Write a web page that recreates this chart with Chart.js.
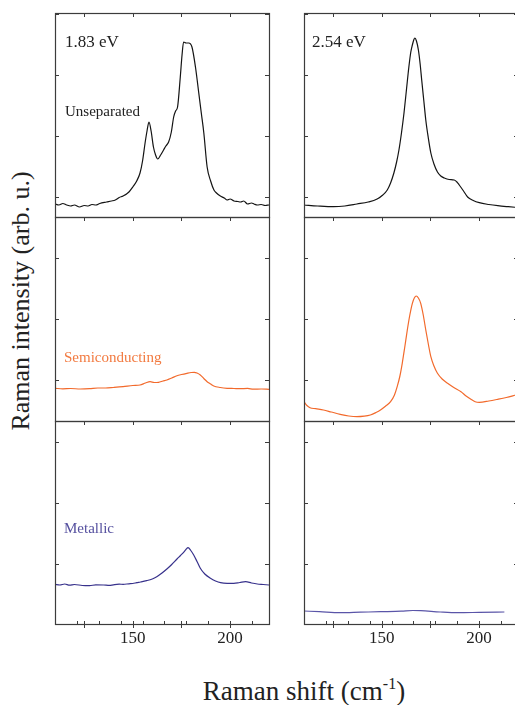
<!DOCTYPE html>
<html><head><meta charset="utf-8">
<script src="https://cdn.jsdelivr.net/npm/chart.js@4.4.0/dist/chart.umd.min.js"></script>
<style>
html,body{margin:0;padding:0;width:515px;height:705px;overflow:hidden;background:#fff;position:relative;}
canvas{position:absolute;}
.t{position:absolute;font-family:"Liberation Serif","Times New Roman",serif;white-space:nowrap;line-height:1;color:#222;}
</style></head><body>
<canvas id="p0"></canvas><canvas id="p1"></canvas><canvas id="p2"></canvas>
<canvas id="p3"></canvas><canvas id="p4"></canvas><canvas id="p5"></canvas>
<div class="t" style="font-size:17px;left:65px;top:32.8px;">1.83 eV</div>
<div class="t" style="font-size:17px;left:312px;top:32.8px;">2.54 eV</div>
<div class="t" style="font-size:15px;left:65px;top:104.4px;">Unseparated</div>
<div class="t" style="font-size:15px;left:64px;top:350px;color:#f27a40;">Semiconducting</div>
<div class="t" style="font-size:15px;left:64px;top:520.5px;color:#55509f;">Metallic</div>
<div class="t" style="font-size:26px;left:21px;top:301px;transform:translate(-50%,-50%) rotate(-90deg);">Raman intensity (arb. u.)</div>
<div class="t" style="font-size:27px;left:304px;top:678.4px;transform:translateX(-50%);">Raman shift (cm<span style="font-size:16px;position:relative;top:-11px;">-1</span>)</div>
<script>
// ---- data (Raman shift in cm^-1, intensity in arb. u.) ----
const shiftMajorTicks = [125, 150, 175, 200];
const shiftMinorTicks = [121.25, 132.5, 143.75, 155, 166.25, 177.5, 188.75, 211.25];
const shiftTickLabels = [150, 200];
const intensityTicksTop = [20, 81, 142, 203];
const intensityTicksMid = [41, 102, 163];
const intensityTicksBot = [60, 121, 182];

const shiftUnsep183 = [110,112,114,116,118,120,122.6,125,127,129,131,133,136.5,139,141,143,145,148,150,152,153.7,155,156.3,157.3,158.3,159.4,160.6,161.7,162.8,164.3,165.8,167,168.4,169.8,171,172,173,174.4,175.3,176.1,177.4,178.7,180.4,182.2,183.9,185.2,186.5,188.2,190,191.7,193,195,197,198.5,200,202,204,205.4,207,209,211,212.3,214,216,218,220];
const intUnsep183   = [13,12,13.5,12,11,12,10,11.5,11,12.5,12,13.5,15,16,17,19.5,21,25,30,36,44,56,74,86,95,86,70,62,58,62,67,71,75,85,100,106,110,140,162,175,174,174,170,150,124,104,84,50,36,27,24,21,19,17,18,16,15.5,15,16,13,14,13,12,12.5,11.5,12];

const shiftUnsep254 = [110,117,125.2,131,137.2,143,147.6,150.5,152.8,154.5,156.2,157.6,158.8,160.1,161.4,162.7,163.9,164.9,165.7,166.4,167,167.8,168.8,169.7,170.5,171.6,172.6,173.9,175.2,176.8,178.6,180.3,182.1,184.6,187.2,188.6,189.8,192,194.1,197,200.1,205,209.6,215,220];
const intUnsep254   = [12,11,10.3,11,13,15,18,22,27,34,44,55,67,84,104,128,150,165,172,177,179,176,167,153,137,116,97,79,64,53,45,41,39,37.5,37,35,32,26,20,16.5,14.3,12.5,11.3,10.3,9.5];

const shiftSemi183 = [110,114,118,123,127.8,132,136,140,145,150,153.7,156.5,158.9,161,163.2,165.5,167.5,170,172.7,175,177.8,180,181.6,183,184.7,186.5,188.2,190,191.6,195,198.5,202,205,209,212,216,220];
const intSemi183   = [32.7,32.2,32.5,32,32.3,33,33,33.5,34.3,35.5,36,38,39.3,38.5,38.7,40,41,43,45.3,46.5,47.7,48.5,48.7,48,46,42.5,39.3,37,35,33.5,32.7,32.5,32.3,32.6,31.8,32,31.7];

const shiftSemi254 = [110,111.5,113.1,116,120,124,128.6,133,137.2,141,144.1,147,149.3,152,154.5,156.5,157.9,159.3,160.5,161.8,163.1,164.4,165.7,166.7,167.7,168.8,170,171.3,172.6,173.9,175.2,176.8,178.6,181,183.8,187,190.7,193.3,195.8,198,200.1,205,209.6,214,219];
const intSemi254   = [19.3,15.5,13.3,12.3,11,9,6.7,5,4.3,4.8,6,8.5,11,15,19.3,26,34.3,45,57.7,74,91,106,117.7,123,125,123,117.7,106,91,77,64.3,55,47.7,42,37.7,33.5,29.3,25,21.7,19.3,18.7,20,21.7,23.5,26];

const shiftMetal183 = [110,112.5,115,117.5,120,124,127.8,131,135,138,140,143,145,148,150,152,154,157.1,160,162.3,165,167.5,170,172.7,174.5,176.1,177.3,178.4,179.8,181.3,183,184.7,187,189.9,192.5,195.1,198.5,201.9,205,208,211,214,217,220];
const intMetal183   = [39.7,39,40,38.8,39.5,38.5,38.3,39.2,39,38.6,39.2,39.8,39.7,40.2,40.5,41.3,42,43.3,45,47.3,51,55,59.5,65,68.5,71.7,74.5,76.3,73.5,69,62.5,55.7,50,45.7,43,41.3,40.7,40.7,41.5,42.3,41,40,39.5,39];

const shiftMetal254 = [110,118,128.6,139,149.3,160,166,170,180,189,200,213];
const intMetal254   = [13,12.3,11.3,11.8,12.3,12.8,13.5,13.3,12,11.3,11.6,12];

// ---- layout ----
const colLeft = [55, 304];
const panelW = 214;
const rowTop = [13, 217, 421];
const rowH = [204, 204, 203];
const pad = 10;

const panels = [
  {id:'p0', col:0, row:0, xs:shiftUnsep183, ys:intUnsep183, color:'#141414', yTicks:intensityTicksTop},
  {id:'p1', col:1, row:0, xs:shiftUnsep254, ys:intUnsep254, color:'#141414', yTicks:intensityTicksTop},
  {id:'p2', col:0, row:1, xs:shiftSemi183, ys:intSemi183, color:'#f26a2c', yTicks:intensityTicksMid},
  {id:'p3', col:1, row:1, xs:shiftSemi254, ys:intSemi254, color:'#f26a2c', yTicks:intensityTicksMid},
  {id:'p4', col:0, row:2, xs:shiftMetal183, ys:intMetal183, color:'#38328c', yTicks:intensityTicksBot},
  {id:'p5', col:1, row:2, xs:shiftMetal254, ys:intMetal254, color:'#5a55a8', yTicks:intensityTicksBot},
];

const framePlugin = {
  id: 'frame',
  afterDatasetsDraw(chart, args, opts) {
    const {ctx, chartArea: a, scales} = chart;
    const x = scales.x, y = scales.y;
    ctx.save();
    ctx.strokeStyle = '#3c3c3c';
    ctx.lineWidth = 1.2;
    ctx.strokeRect(a.left + 0.5, a.top + 0.5, a.right - a.left, a.bottom - a.top);
    ctx.lineWidth = 1;
    ctx.beginPath();
    // top ticks (inward)
    shiftMajorTicks.forEach(v => {
      const px = Math.round(x.getPixelForValue(v)) + 0.5;
      ctx.moveTo(px, a.top); ctx.lineTo(px, a.top + 4);
    });
    // y ticks both sides, inward
    opts.yTicks.forEach(v => {
      const py = Math.round(y.getPixelForValue(v)) + 0.5;
      ctx.moveTo(a.left, py); ctx.lineTo(a.left + 4, py);
      ctx.moveTo(a.right, py); ctx.lineTo(a.right - 4, py);
    });
    if (opts.bottom) {
      shiftMajorTicks.forEach(v => {
        const px = Math.round(x.getPixelForValue(v)) + 0.5;
        ctx.moveTo(px, a.bottom - 3); ctx.lineTo(px, a.bottom + 4);
      });
      shiftMinorTicks.forEach(v => {
        const px = Math.round(x.getPixelForValue(v)) + 0.5;
        ctx.moveTo(px, a.bottom - 3); ctx.lineTo(px, a.bottom);
      });
    }
    ctx.stroke();
    if (opts.bottom) {
      ctx.fillStyle = '#222';
      ctx.font = '17px "Liberation Serif", "Times New Roman", serif';
      ctx.textAlign = 'center';
      ctx.textBaseline = 'alphabetic';
      shiftTickLabels.forEach(v => {
        ctx.fillText(String(v), x.getPixelForValue(v), a.bottom + 19);
      });
    }
    ctx.restore();
  }
};

panels.forEach(p => {
  const cv = document.getElementById(p.id);
  const bottom = p.row === 2;
  const w = panelW + 2 * pad;
  const h = rowH[p.row] + 2 * pad + (bottom ? 30 : 0);
  cv.width = w; cv.height = h;
  cv.style.width = w + 'px'; cv.style.height = h + 'px';
  cv.style.left = (colLeft[p.col] - pad) + 'px';
  cv.style.top = (rowTop[p.row] - pad) + 'px';
  new Chart(cv, {
    type: 'line',
    data: {
      datasets: [{
        data: p.xs.map((v, i) => ({x: v, y: p.ys[i]})),
        borderColor: p.color,
        borderWidth: 1.2,
        pointRadius: 0,
        cubicInterpolationMode: 'monotone',
        fill: false
      }]
    },
    options: {
      responsive: false,
      animation: false,
      devicePixelRatio: 1,
      layout: {padding: {left: pad, right: pad, top: pad, bottom: pad + (bottom ? 30 : 0)}},
      plugins: {legend: {display: false}, tooltip: {enabled: false}, frame: {yTicks: p.yTicks, bottom: bottom}},
      scales: {
        x: {type: 'linear', min: 110, max: 220, display: false},
        y: {min: 0, max: rowH[p.row], display: false}
      }
    },
    plugins: [framePlugin]
  });
});
</script>
</body></html>
